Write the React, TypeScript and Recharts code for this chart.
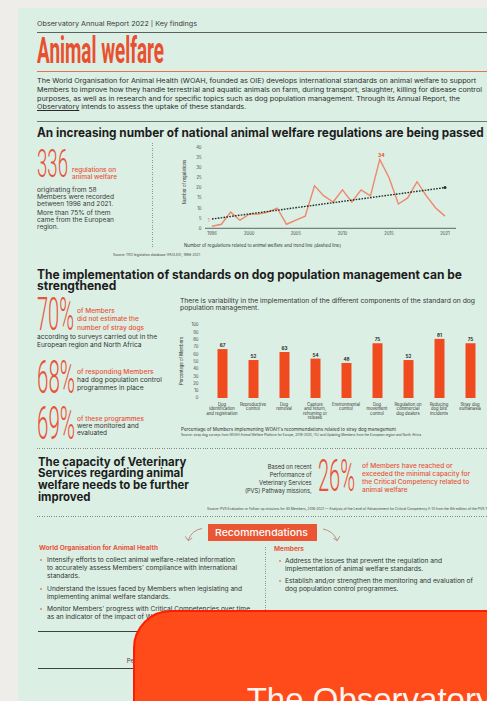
import React, { useLayoutEffect, useRef, useState } from "react";
import { Bar, BarChart, LabelList, Line, LineChart, XAxis, YAxis } from "recharts";

// regulations per year
const years = [1996, 1997, 1998, 1999, 2000, 2001, 2002, 2003, 2004, 2005, 2006, 2007, 2008, 2009, 2010, 2011, 2012, 2013, 2014, 2015, 2016, 2017, 2018, 2019, 2020, 2021];
const regulations = [1, 2, 8, 4, 7, 7, 8, 10, 2, 4, 6, 21, 16, 13, 19, 13, 19, 16, 34, 25, 12, 15, 23, 16, 10, 6];
const trendStart = 4.6;
const trendEnd = 20.1;
const yearTicks = [1996, 2000, 2005, 2010, 2015, 2021];
const regTicks = [0, 5, 10, 15, 20, 25, 30, 35, 40];

// dog population management components
const dogCategories = [
  "Dog\nidentification\nand registration",
  "Reproductive\ncontrol",
  "Dog\nremoval",
  "Capture\nand return,\nrehoming or\nrelease",
  "Environmental\ncontrol",
  "Dog\nmovement\ncontrol",
  "Regulation on\ncommercial\ndog dealers",
  "Reducing\ndog bite\nincidents",
  "Stray dog\neuthanasia",
];
const dogShares = [67, 52, 63, 54, 48, 75, 52, 81, 75];
const shareTicks = [0, 10, 20, 30, 40, 50, 60, 70, 80, 90, 100];

const lineData = years.map((year, i) => ({
  year,
  count: regulations[i],
  trend: i === 0 ? trendStart : i === years.length - 1 ? trendEnd : null,
}));
const barData = dogCategories.map((label, i) => ({ label, value: dogShares[i] }));

const SANS = "Inter, 'Noto Sans', sans-serif";
const COND = "Roboto, 'DejaVu Sans', sans-serif";
const RED = "#e8533a";
const INK = "#2a2a2a";
const PAGE_W = 487;

type TProps = {
  x: number;
  y: number;
  s: number;
  w?: number;
  lh?: number;
  color?: string;
  weight?: number;
  family?: string;
  align?: "left" | "right";
  children: React.ReactNode;
};

// absolutely placed text, squeezed/stretched horizontally to a measured width
function T({ x, y, s, w, lh, color = INK, weight = 400, family = SANS, align = "left", children }: TProps) {
  const ref = useRef<HTMLDivElement>(null);
  const [k, setK] = useState(1);
  useLayoutEffect(() => {
    if (w && ref.current) {
      const m = ref.current.getBoundingClientRect().width;
      if (m > 0) setK(w / m);
    }
  }, []);
  const h = lh ?? s;
  return (
    <div
      ref={ref}
      style={{
        position: "absolute",
        left: align === "left" ? x : undefined,
        right: align === "right" ? PAGE_W - x : undefined,
        top: y - h / 2,
        fontSize: s,
        lineHeight: h + "px",
        whiteSpace: "pre",
        color,
        fontWeight: weight,
        fontFamily: family,
        textAlign: align,
        transform: `scaleX(${k})`,
        transformOrigin: align === "right" ? "right center" : "left center",
      }}
    >
      {children}
    </div>
  );
}

function Rot({ x, y, s, children }: { x: number; y: number; s: number; children: React.ReactNode }) {
  return (
    <div
      style={{
        position: "absolute",
        left: x,
        top: y,
        fontSize: s,
        lineHeight: s + "px",
        whiteSpace: "nowrap",
        fontFamily: SANS,
        color: "#333",
        transform: "translate(-50%, -50%) rotate(-90deg)",
      }}
    >
      {children}
    </div>
  );
}

const HDots = ({ y, x1 = 37, x2 = 487 }: { y: number; x1?: number; x2?: number }) => (
  <div
    style={{
      position: "absolute",
      top: y,
      left: x1,
      width: x2 - x1,
      height: 0.8,
      background: "repeating-linear-gradient(90deg, #7f8c85 0 1px, transparent 1px 2.4px)",
    }}
  />
);

const VDots = ({ x, y1, y2 }: { x: number; y1: number; y2: number }) => (
  <div
    style={{
      position: "absolute",
      left: x,
      top: y1,
      width: 0.8,
      height: y2 - y1,
      background: "repeating-linear-gradient(180deg, #8a968f 0 1px, transparent 1px 2.4px)",
    }}
  />
);

const Rule = ({ y, c, t = 1, x1 = 37, x2 = 487 }: { y: number; c: string; t?: number; x1?: number; x2?: number }) => (
  <div style={{ position: "absolute", top: y - t / 2, left: x1, width: x2 - x1, height: t, background: c }} />
);

const Bullet = ({ x, y, c = "#e9836a" }: { x: number; y: number; c?: string }) => (
  <div style={{ position: "absolute", left: x, top: y - 1, width: 2, height: 2, borderRadius: 1, background: c }} />
);

const lineLabel = (p: any) => {
  const { x, y, value, index } = p;
  if (index === 0) {
    return (
      <text x={x - 3.3} y={y - 4.5} fontSize={4.6} fill="#e8734f" textAnchor="middle" fontFamily={SANS}>
        {value}
      </text>
    );
  }
  if (value === Math.max(...regulations)) {
    return (
      <text x={x + 1.5} y={y - 2} fontSize={5} fontWeight={700} fill="#e8502e" textAnchor="middle" fontFamily={SANS}>
        {value}
      </text>
    );
  }
  return null;
};

const trendDot = (p: any) =>
  p.index === years.length - 1 ? (
    <circle key="end" cx={p.cx} cy={p.cy} r={1.5} fill="#24332c" />
  ) : (
    <g key={p.index} />
  );

const CatTick = (p: any) => {
  const lines = String(p.payload.value).split("\n");
  return (
    <text x={p.x} y={p.y + 8.2} textAnchor="middle" fontSize={4.2} fill="#333" fontFamily={SANS}>
      {lines.map((l, i) => (
        <tspan key={i} x={p.x} dy={i === 0 ? 0 : 4.2}>
          {l}
        </tspan>
      ))}
    </text>
  );
};

function RegulationsChart() {
  return (
    <div style={{ position: "absolute", left: 180, top: 140 }}>
      <LineChart width={307} height={100} data={lineData} margin={{ top: 7.3, right: 31, bottom: 1.7, left: 9 }}>
        <XAxis
          dataKey="year"
          type="number"
          domain={[1996, 2021]}
          ticks={yearTicks}
          interval={0}
          padding={{ left: 7, right: 11 }}
          axisLine={{ stroke: "#4f5753", strokeWidth: 0.9 }}
          tickLine={false}
          tickSize={0}
          tickMargin={4}
          height={10}
          tick={{ fontSize: 4.2, fill: "#444", fontFamily: SANS }}
        />
        <YAxis
          type="number"
          domain={[0, 40]}
          ticks={regTicks}
          interval={0}
          width={16}
          axisLine={false}
          tickLine={false}
          tickSize={0}
          tickMargin={3.5}
          tick={{ fontSize: 4.2, fill: "#444", fontFamily: SANS }}
        />
        <Line
          dataKey="count"
          stroke="#f0866a"
          strokeWidth={1.4}
          dot={false}
          activeDot={false}
          isAnimationActive={false}
        >
          <LabelList dataKey="count" content={lineLabel} />
        </Line>
        <Line
          dataKey="trend"
          stroke="#1f2c26"
          strokeWidth={1.4}
          strokeDasharray="1.6 1.3"
          connectNulls
          dot={trendDot}
          activeDot={false}
          isAnimationActive={false}
        />
      </LineChart>
    </div>
  );
}

function DogChart() {
  return (
    <div style={{ position: "absolute", left: 180, top: 318 }}>
      <BarChart width={307} height={105} data={barData} margin={{ top: 7, right: 1.5, bottom: 0, left: 6.5 }}>
        <XAxis
          dataKey="label"
          interval={0}
          axisLine={false}
          tickLine={false}
          tickSize={0}
          tickMargin={0}
          height={25}
          tick={<CatTick />}
        />
        <YAxis
          type="number"
          domain={[0, 100]}
          ticks={shareTicks}
          interval={0}
          width={20}
          axisLine={false}
          tickLine={false}
          tickSize={0}
          tickMargin={8}
          tick={{ fontSize: 4.2, fill: "#444", fontFamily: SANS }}
        />
        <Bar dataKey="value" fill="#f04a1f" barSize={10} isAnimationActive={false}>
          <LabelList
            dataKey="value"
            position="top"
            offset={2}
            style={{ fontSize: 4.6, fontWeight: 700, fill: "#2a2a2a", fontFamily: SANS }}
          />
        </Bar>
      </BarChart>
    </div>
  );
}

export default function App() {
  return (
    <div
      style={{
        position: "absolute",
        left: 0,
        top: 0,
        width: PAGE_W,
        height: 701,
        overflow: "hidden",
        background: "#eeede9",
        fontFamily: SANS,
      }}
    >
      {/* card */}
      <div style={{ position: "absolute", left: 18, top: 8, width: 500, height: 720, background: "#dcefe4" }} />

      {/* header */}
      <T x={36.7} y={24.3} s={6} w={160} color="#3a3a3a">
        Observatory Annual Report 2022 | Key findings
      </T>
      <Rule y={32.3} c="#5b615e" t={0.8} />
      <T x={36.5} y={50.7} s={37} lh={30} w={127} weight={700} family={COND} color="#e9502f">
        Animal welfare
      </T>
      <Rule y={71} c="#e8704f" t={1} />
      <T x={36.7} y={81.7} s={6.3} lh={8.7} w={445} color={INK}>
        <>
          {"The World Organisation for Animal Health (WOAH, founded as OIE) develops international standards on animal welfare to support\n" +
            "Members to improve how they handle terrestrial and aquatic animals on farm, during transport, slaughter, killing for disease control\n" +
            "purposes, as well as in research and for specific topics such as dog population management. Through its Annual Report, the\n"}
          <u>Observatory</u>
          {" intends to assess the uptake of these standards."}
        </>
      </T>
      <Rule y={121.7} c="#707772" t={1.3} />

      {/* section 1 */}
      <T x={36.7} y={133.3} s={12.5} lh={10} w={446.7} weight={700} color="#1d1d1d">
        An increasing number of national animal welfare regulations are being passed
      </T>
      <T x={37} y={164.7} s={38} lh={29} w={31} weight={300} family={COND} color={RED}>
        336
      </T>
      <T x={71.7} y={170.5} s={6.3} lh={7.2} w={45} weight={500} color={RED}>
        {"regulations on\nanimal welfare"}
      </T>
      <T x={37} y={190.7} s={6.3} lh={7.1} w={77} color="#3a3a3a">
        {"originating from 58\nMembers were recorded\nbetween 1996 and 2021."}
      </T>
      <T x={37} y={213.3} s={6.3} lh={6.9} w={77} color="#3a3a3a">
        {"More than 75% of them\ncame from the European\nregion."}
      </T>
      <VDots x={152} y1={143} y2={248} />
      <Rot x={185} y={182} s={4.2}>
        Number of regulations
      </Rot>
      <RegulationsChart />
      <T x={184} y={246.5} s={4.5} w={157} color="#333">
        Number of regulations related to animal welfare and trend line (dashed line)
      </T>
      <T x={113} y={256} s={3.4} w={87} color="#444">
        Source: TRO legislation database (FAOLEX), 1996-2021
      </T>
      <HDots y={262.7} />

      {/* section 2 */}
      <T x={36.7} y={274.5} s={12.5} lh={11} w={425} weight={700} color="#1d1d1d">
        {"The implementation of standards on dog population management can be\nstrengthened"}
      </T>
      <T x={37} y={314} s={46} lh={35} w={37} weight={300} family={COND} color={RED}>
        70%
      </T>
      <T x={77.3} y={311} s={6.5} lh={8.5} w={67} weight={500} color={RED}>
        {"of Members\ndid not estimate the\nnumber of stray dogs"}
      </T>
      <T x={36.7} y={338} s={6.5} lh={7.7} w={120} color="#333">
        {"according to surveys carried out in the\nEuropean region and North Africa"}
      </T>
      <T x={37} y={377} s={46} lh={35} w={38} weight={300} family={COND} color={RED}>
        68%
      </T>
      <T x={77} y={372} s={6.5} lh={8} w={85} color="#333">
        <>
          <span style={{ color: RED, fontWeight: 500 }}>of responding Members</span>
          {"\nhad dog population control\nprogrammes in place"}
        </>
      </T>
      <T x={37} y={423.4} s={46} lh={35} w={38} weight={300} family={COND} color={RED}>
        69%
      </T>
      <T x={77} y={419.3} s={6.5} lh={7.4} w={67} color="#333">
        <>
          <span style={{ color: RED, fontWeight: 500 }}>of these programmes</span>
          {"\nwere monitored and\nevaluated"}
        </>
      </T>
      <T x={180} y={301.7} s={6.3} lh={7.3} w={295} color="#333">
        {"There is variability in the implementation of the different components of the standard on dog\npopulation management."}
      </T>
      <Rot x={182} y={361} s={4.2}>
        Percentage of Members
      </Rot>
      <DogChart />
      <T x={181} y={430.5} s={4.6} w={215} color="#333">
        Percentage of Members implementing WOAH's recommendations related to stray dog management
      </T>
      <T x={181} y={436} s={3.4} w={240} color="#444">
        Source: stray dog surveys from WOAH Animal Welfare Platform for Europe, 2019-2020, (%) and Updating Members from the European region and North Africa
      </T>
      <HDots y={448} />

      {/* section 3 */}
      <T x={37.7} y={461.5} s={12} lh={11.7} w={151} weight={700} color="#1d1d1d">
        {"The capacity of Veterinary\nServices regarding animal\nwelfare needs to be further\nimproved"}
      </T>
      <T x={311.7} y={467} s={6.2} lh={8} w={66.7} align="right" color="#333">
        {"Based on recent\nPerformance of\nVeterinary Services\n(PVS) Pathway missions,"}
      </T>
      <T x={318} y={476} s={44} lh={34} w={37} weight={300} family={COND} color={RED}>
        26%
      </T>
      <T x={361.7} y={466} s={6.2} lh={8} w={108} weight={500} color={RED}>
        {"of Members have reached or\nexceeded the minimal capacity for\nthe Critical Competency related to\nanimal welfare"}
      </T>
      <T x={207} y={509.5} s={3.4} w={285} color="#444">
        Source: PVS Evaluation or Follow-up missions for 40 Members, 2016-2021 — Analysis of the Level of Advancement for Critical Competency II-13 from the 8th edition of the PVS Tool
      </T>
      <HDots y={516} />

      {/* recommendations */}
      <div
        style={{
          position: "absolute",
          left: 207.7,
          top: 524,
          width: 109,
          height: 17,
          background: "#ea5634",
        }}
      />
      <T x={215} y={532.5} s={9.5} w={93} weight={500} color="#fff">
        Recommendations
      </T>
      <svg width={PAGE_W} height={701} style={{ position: "absolute", left: 0, top: 0 }}>
        <path d="M 202 528.5 Q 192 530 188.3 540" fill="none" stroke="#b98472" strokeWidth={0.9} />
        <path d="M 185.3 536.3 L 188.3 540.8 L 192.2 537.9" fill="none" stroke="#b98472" strokeWidth={0.9} />
        <path d="M 323 529 Q 333 531 337 540" fill="none" stroke="#b98472" strokeWidth={0.9} />
        <path d="M 333.2 538 L 337.2 540.8 L 339.8 536.2" fill="none" stroke="#b98472" strokeWidth={0.9} />
      </svg>
      <T x={39.3} y={548.3} s={5.8} w={119} weight={700} color={RED}>
        World Organisation for Animal Health
      </T>
      <Bullet x={40} y={560} />
      <T x={47} y={560} s={5.8} lh={8.3} w={190} color="#333">
        {"Intensify efforts to collect animal welfare-related information\nto accurately assess Members' compliance with international\nstandards."}
      </T>
      <Bullet x={40} y={589} />
      <T x={47} y={589} s={5.8} lh={7.7} w={195} color="#333">
        {"Understand the issues faced by Members when legislating and\nimplementing animal welfare standards."}
      </T>
      <Bullet x={40} y={609.3} />
      <T x={47} y={609.3} s={5.8} lh={8} w={203} color="#333">
        {"Monitor Members' progress with Critical Competencies over time\nas an indicator of the impact of WOAH's activities."}
      </T>
      <VDots x={265} y1={547} y2={612} />
      <T x={274} y={549.3} s={5.8} w={30} weight={700} color={RED}>
        Members
      </T>
      <Bullet x={278.5} y={561} />
      <T x={285} y={561} s={5.8} lh={8} w={157} color="#333">
        {"Address the issues that prevent the regulation and\nimplementation of animal welfare standards."}
      </T>
      <Bullet x={278.5} y={581} />
      <T x={285} y={581} s={5.8} lh={8} w={188} color="#333">
        {"Establish and/or strengthen the monitoring and evaluation of\ndog population control programmes."}
      </T>

      {/* footer behind the overlay */}
      <Rule y={631.7} c="#3d4340" t={1} x1={38} />
      <T x={126.7} y={660.7} s={6} color="#444">
        Performance of Veterinary Services
      </T>
      <Rule y={668.3} c="#3d4340" t={1.5} x1={38} />

      {/* overlay badge */}
      <div
        style={{
          position: "absolute",
          left: 133,
          top: 610,
          width: 420,
          height: 160,
          borderRadius: 38,
          background: "#ff4a19",
          border: "2px solid #ff1c00",
          boxSizing: "border-box",
        }}
      />
      <div
        style={{
          position: "absolute",
          left: 246.7,
          top: 682.7,
          fontSize: 33,
          lineHeight: "33px",
          whiteSpace: "nowrap",
          color: "#fff4ef",
          fontFamily: "'Liberation Sans', Arial, sans-serif",
        }}
      >
        The Observatory
      </div>
    </div>
  );
}
